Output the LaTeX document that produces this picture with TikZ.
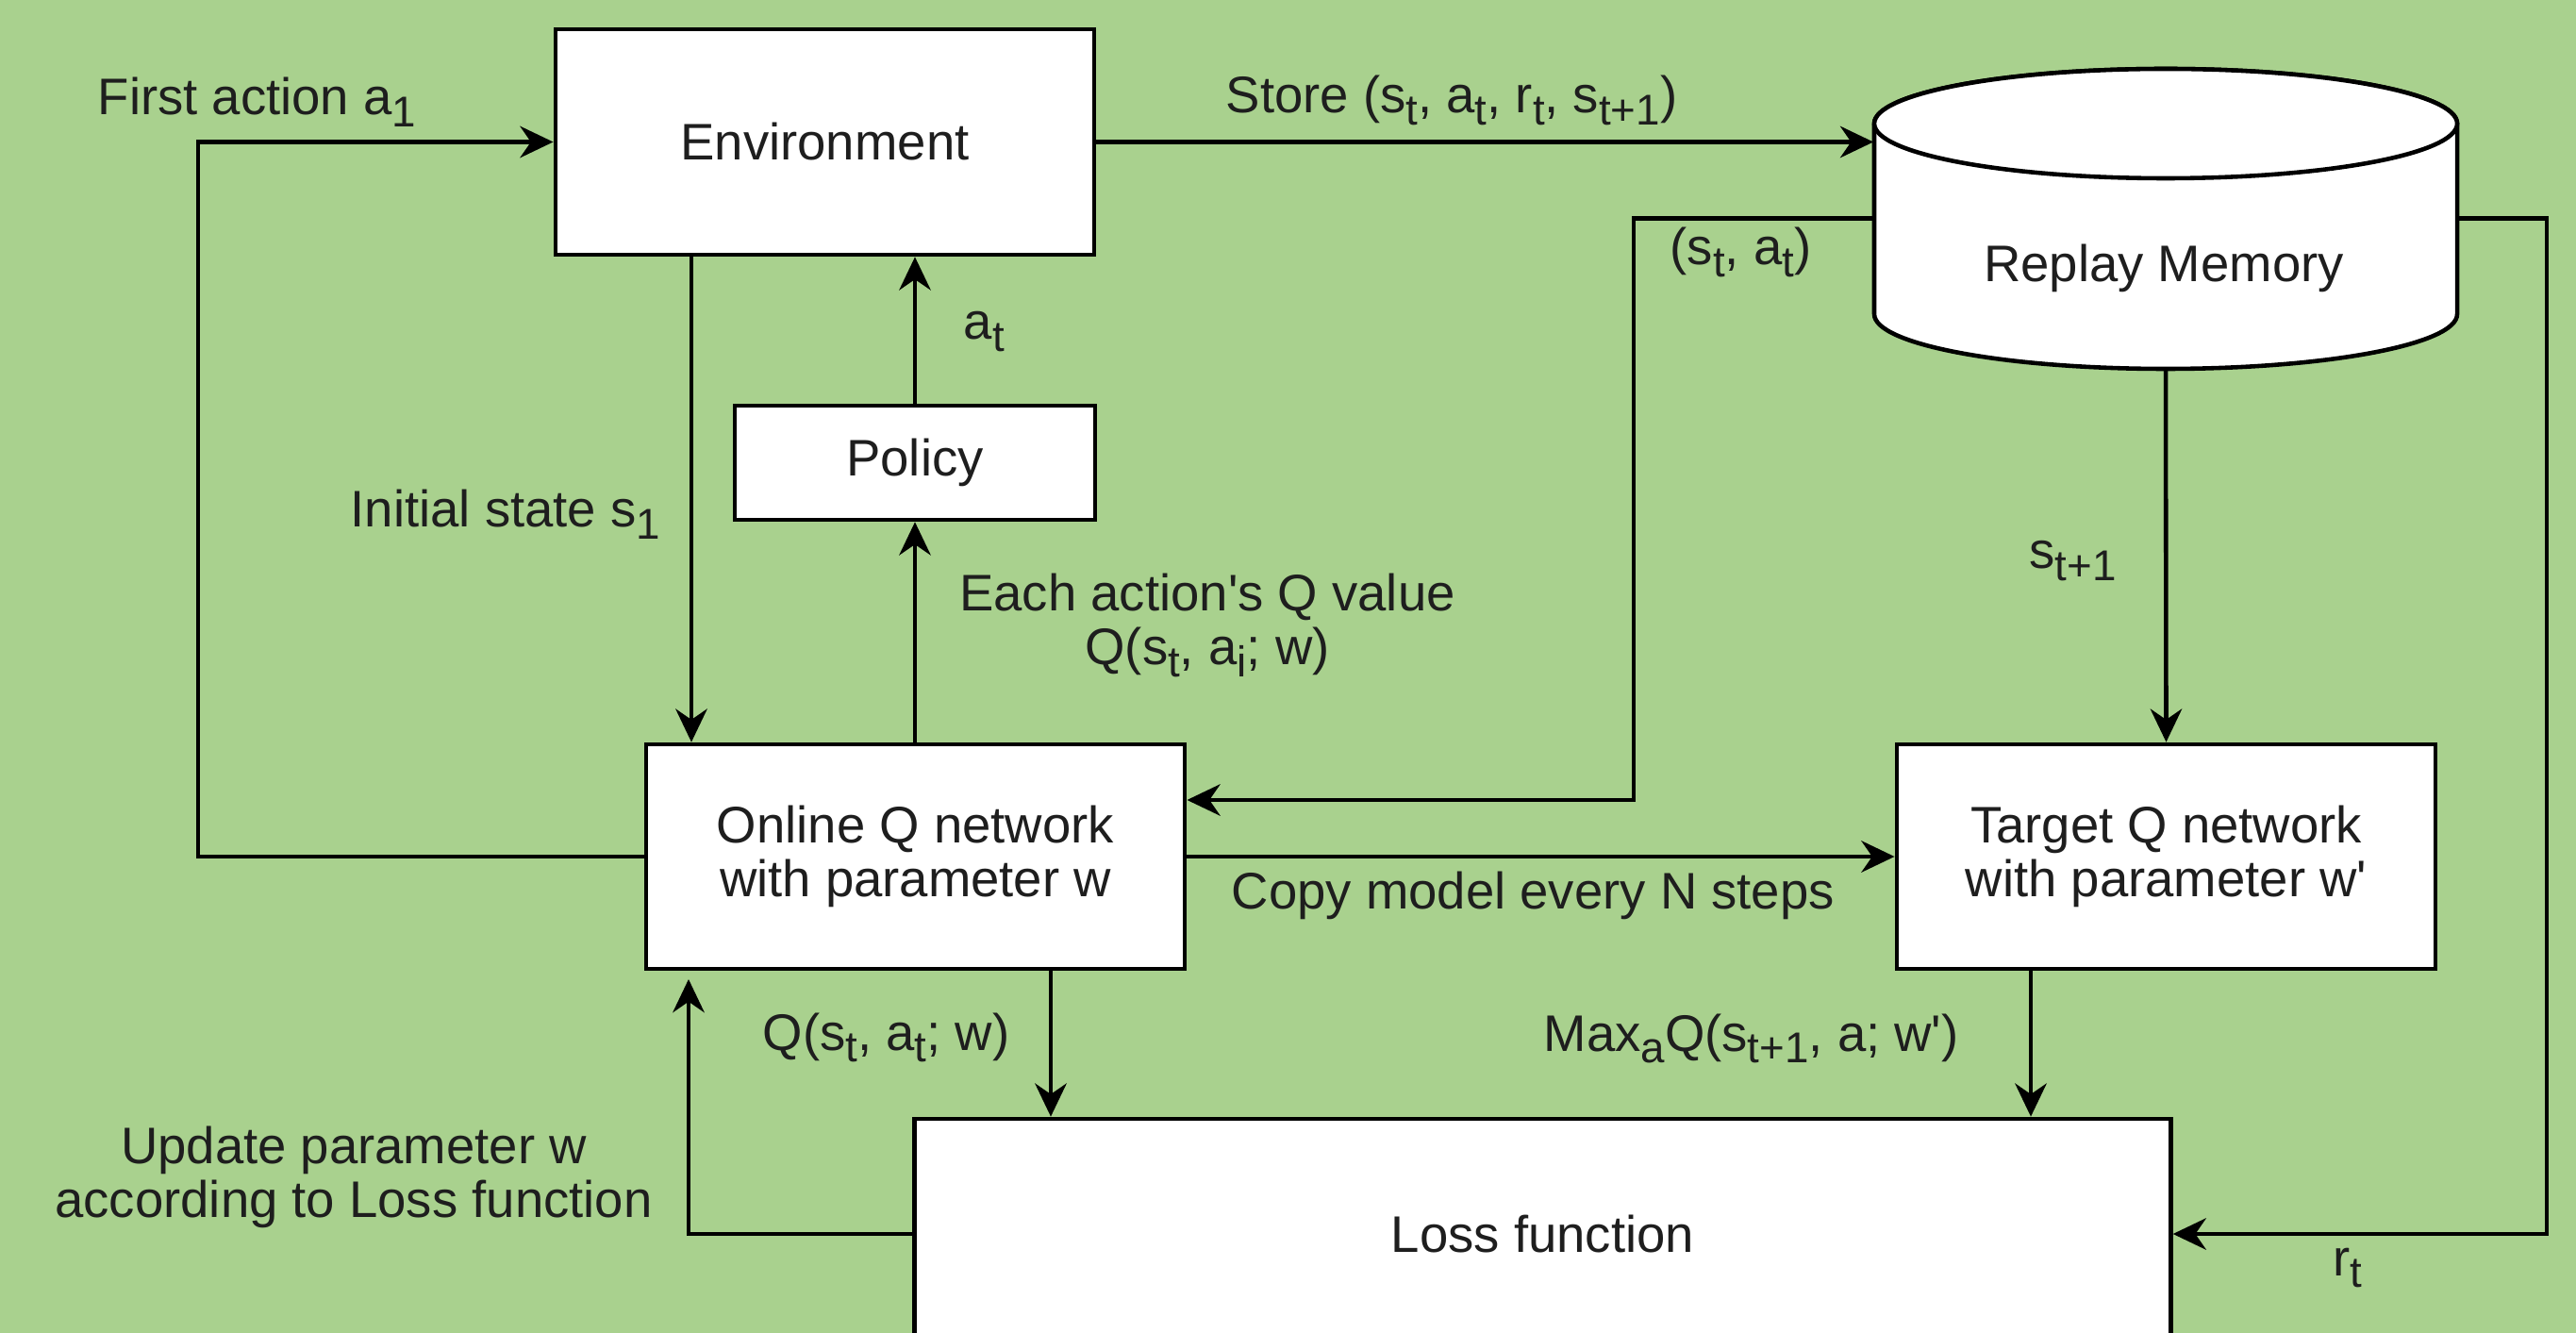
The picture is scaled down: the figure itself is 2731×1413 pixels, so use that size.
\documentclass[tikz,border=0pt]{standalone}
\usepackage{fontspec}
\setmainfont{Liberation Sans}
\usetikzlibrary{arrows.meta}
\definecolor{bg}{HTML}{A9D18E}
\definecolor{ink}{HTML}{1E1E1E}
% lowered index as used in the labels (s_t, a_1, ...)
\newcommand{\dsub}[1]{\raisebox{-0.45ex}{\fontsize{13}{13}\selectfont #1}}

\begin{document}
\begin{tikzpicture}[x=0.01cm,y=-0.01cm,
  box/.style={draw=black, fill=white, line width=1.3pt,
    font=\fontsize{15.5}{16.2}\selectfont, text=ink, align=center, inner sep=0pt},
  lbl/.style={font=\fontsize{15.5}{16.2}\selectfont, text=ink, inner sep=0pt, align=center},
  arr/.style={draw=black, line width=1.3pt, -{Stealth[length=10pt,width=9.5pt]}},
  wire/.style={draw=black, line width=1.3pt}]

% canvas
\fill[bg] (0,0) rectangle (2731,1413);
\clip (0,0) rectangle (2731,1413);

% boxes
\node[box, minimum width=5.71cm, minimum height=2.39cm] (env) at (874.5,150.5) {Environment};
\node[box, minimum width=3.82cm, minimum height=1.21cm] (policy) at (970,490.5) {Policy};
\node[box, minimum width=5.71cm, minimum height=2.38cm] (online) at (970.5,908) {Online Q network\\with parameter w};
\node[box, minimum width=5.71cm, minimum height=2.38cm] (target) at (2296.5,908) {Target Q network\\with parameter w\textquotesingle};
\node[box, minimum width=13.31cm, minimum height=2.44cm] (loss) at (1635.5,1308) {Loss function};

% replay memory cylinder
\node[minimum width=6.18cm, minimum height=3.17cm, inner sep=0pt] (mem) at (2296,231.5) {};
\path[wire, fill=white] (1987,131) -- (1987,333)
  arc[start angle=180, end angle=0, x radius=309, y radius=58]
  -- (2605,131)
  arc[start angle=0, end angle=-180, x radius=309, y radius=58] -- cycle;
\draw[wire, fill=white] (2296,131) ellipse [x radius=309, y radius=58];
\node[lbl] (memtxt) at (2294,284) {Replay Memory};

% bend points of the connectors
\coordinate (c1) at (210,150.5);
\coordinate (xa) at (733,0);
\coordinate (c6) at (1732,848);
\coordinate (c8) at (2700,1308);
\coordinate (xb) at (1114,0);
\coordinate (xc) at (2153,0);
\coordinate (xd) at (730,1038);

% connectors
\draw[arr] (online.west) -| (c1) -- (env.west);
\draw[arr] (env.south -| xa) -- (online.north -| xa);
\draw[arr] (policy.north) -- (policy.north |- env.south);
\draw[arr] (online.north -| policy.south) -- (policy.south);
\draw[arr] (env.east) -- (env.east -| mem.west);
\draw[arr] (mem.west) -| (c6) -- (c6 -| online.east);
\draw[arr] (mem.south) -- (target.north);
\draw[arr] (mem.east) -| (c8) -- (loss.east);
\draw[arr] (online.east) -- (target.west);
\draw[arr] (online.south -| xb) -- (loss.north -| xb);
\draw[arr] (target.south -| xc) -- (loss.north -| xc);
\draw[arr] (loss.west) -| (xd);

% labels
\node[lbl, anchor=base west] (lfirst) at (103,122) {First action a\dsub{1}};
\node[lbl, anchor=base west] (lat) at (1021,360) {a\dsub{t}};
\node[lbl, anchor=base west] (linit) at (371,559) {Initial state s\dsub{1}};
\node[lbl] (leach) at (1280,663) {Each action\textquotesingle s Q value\\Q(s\dsub{t}, a\dsub{i}; w)};
\node[lbl, anchor=base west] (lstore) at (1299,120) {Store (s\dsub{t}, a\dsub{t}, r\dsub{t}, s\dsub{t+1})};
\node[lbl, anchor=base west] (lsa) at (1770,281) {(s\dsub{t}, a\dsub{t})};
\node[lbl, anchor=base west] (lsnext) at (2151,603) {s\dsub{t+1}};
\node[lbl, anchor=base west] (lcopy) at (1305,963) {Copy model every N steps};
\node[lbl, anchor=base west] (lqon) at (808,1113) {Q(s\dsub{t}, a\dsub{t}; w)};
\node[lbl, anchor=base west] (lmax) at (1636,1114) {Max\dsub{a}Q(s\dsub{t+1}, a; w\textquotesingle)};
\node[lbl] (lupd) at (375,1248) {Update parameter w\\according to Loss function};
\node[lbl, anchor=base west] (lrt) at (2473,1352) {r\dsub{t}};
\end{tikzpicture}
\end{document}
